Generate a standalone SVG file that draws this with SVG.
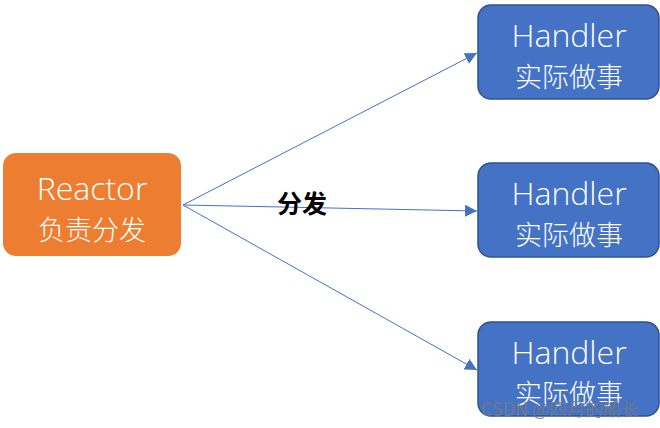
<svg xmlns="http://www.w3.org/2000/svg" width="660" height="428" viewBox="0 0 660 428">
<style>
.h{fill:#4472C4;stroke:#2F528F;stroke-width:1.5}
.t{fill:#fff;font-family:"Open Sans","Noto Sans","Noto Sans CJK SC",sans-serif;text-anchor:middle}
.e{font-size:32px;font-weight:300}
.c{font-size:27px;font-family:"Noto Sans CJK SC",sans-serif;font-weight:300}
.ln{stroke:#4472C4;stroke-width:1;fill:none}
</style>
<defs>
<marker id="a" viewBox="0 0 10 10" refX="10" refY="5" markerWidth="12" markerHeight="12" markerUnits="userSpaceOnUse" orient="auto">
<path d="M0,0L10,5L0,10z" fill="#4472C4"/>
</marker>
</defs>
<rect width="660" height="428" fill="#fff"/>
<g id="connectors">
<line class="ln" x1="183" y1="205" x2="477" y2="53" marker-end="url(#a)"/>
<line class="ln" x1="183" y1="205" x2="477" y2="211" marker-end="url(#a)"/>
<line class="ln" x1="183" y1="205" x2="477" y2="370" marker-end="url(#a)"/>
<text x="302" y="213" font-family="'Noto Sans CJK SC',sans-serif" font-size="25" font-weight="bold" fill="#000" text-anchor="middle">分发</text>
</g>
<g id="reactor">
<rect x="3" y="153" width="178" height="103" rx="13" fill="#ED7D31"/>
<text class="t e" x="92" y="200">Reactor</text>
<text class="t c" x="92" y="240">负责分发</text>
</g>
<g id="handler1">
<rect class="h" x="478" y="5" width="181" height="94" rx="13"/>
<text class="t e" x="569" y="47">Handler</text>
<text class="t c" x="569" y="87">实际做事</text>
</g>
<g id="handler2">
<rect class="h" x="478" y="163" width="181" height="94" rx="13"/>
<text class="t e" x="569" y="205">Handler</text>
<text class="t c" x="569" y="245">实际做事</text>
</g>
<g id="handler3">
<rect class="h" x="478" y="322" width="181" height="94" rx="13"/>
<text class="t e" x="569" y="364">Handler</text>
<text class="t c" x="569" y="404">实际做事</text>
</g>
<text x="560" y="416" font-family="'Noto Sans CJK SC',sans-serif" font-size="18" fill="#7a7a7a" fill-opacity="0.85" text-anchor="middle">CSDN @四月的船长</text>
</svg>
